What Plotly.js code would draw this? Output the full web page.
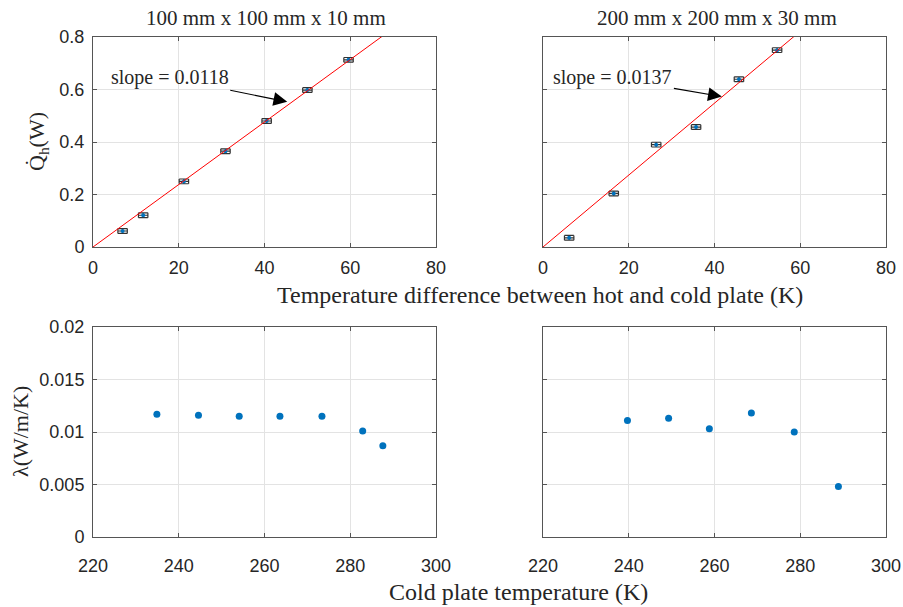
<!DOCTYPE html>
<html>
<head>
<meta charset="utf-8">
<script src="https://cdn.plot.ly/plotly-3.0.1.min.js"></script>
<style>html,body{margin:0;padding:0;background:#fff;}#chart{width:903px;height:607px;}</style>
</head>
<body>
<div id="chart"></div>
<script>
// ---- Data ----
const titles = ["100 mm x 100 mm x 10 mm", "200 mm x 200 mm x 30 mm"];

// Top row: heat flow vs temperature difference
const dT_small = [6.9, 11.7, 21.2, 30.9, 40.5, 50.0, 59.6];
const Q_small  = [0.061, 0.121, 0.250, 0.365, 0.480, 0.598, 0.713];
const dT_large = [6.1, 16.5, 26.4, 35.7, 45.7, 54.6];
const Q_large  = [0.035, 0.204, 0.390, 0.457, 0.639, 0.750];

// Fitted lines (endpoints)
const fitX_small = [0, 80];
const fitY_small = [0, 0.952];
const fitX_large = [0, 80];
const fitY_large = [0, 1.096];
const slopeLabels = ["slope = 0.0118", "slope = 0.0137"];

// Bottom row: conductivity vs cold plate temperature
const Tc_small = [234.9, 244.6, 254.1, 263.6, 273.4, 282.9, 287.6];
const lam_small = [0.0117, 0.0116, 0.0115, 0.0115, 0.0115, 0.0101, 0.0087];
const Tc_large = [239.7, 249.3, 258.8, 268.6, 278.6, 288.9];
const lam_large = [0.0111, 0.0113, 0.0103, 0.0118, 0.0100, 0.0048];

const topXTicks = [0, 20, 40, 60, 80];
const topYTicks = [0, 0.2, 0.4, 0.6, 0.8];
const botXTicks = [220, 240, 260, 280, 300];
const botYTicks = [0, 0.005, 0.01, 0.015, 0.02];
const botYTickText = ["0", "0.005", "0.01", "0.015", "0.02"];

// ---- Styling ----
const W = 903, H = 607;
const px = v => v / W;
const py = v => (H - v) / H;
const blue = "#0072BD";
const tickFont = {family: "Liberation Sans, Arial, sans-serif", size: 18, color: "#262626"};
const serif = "Liberation Serif, Times New Roman, serif";

const leftDom = [px(93), px(436)];
const rightDom = [px(543), px(886)];
const topDom = [py(247), py(37)];
const botDom = [py(537), py(327)];

function xax(dom, range, ticks, anchor, standoff) {
  return {domain: dom, range: range, tickvals: ticks, ticktext: ticks.map(String),
    showgrid: true, gridcolor: "#e3e3e3", gridwidth: 1, zeroline: false,
    showline: true, linecolor: "#555", linewidth: 1, mirror: "ticks",
    ticks: "inside", ticklen: 4, tickcolor: "#555", tickfont: tickFont,
    anchor: anchor, fixedrange: true, ticklabelstandoff: standoff};
}
function yax(dom, range, ticks, text, anchor, show) {
  return {domain: dom, range: range, tickvals: ticks, ticktext: text,
    showticklabels: show,
    showgrid: true, gridcolor: "#e3e3e3", gridwidth: 1, zeroline: false,
    showline: true, linecolor: "#555", linewidth: 1, mirror: "ticks",
    ticks: "inside", ticklen: 4, tickcolor: "#555", tickfont: tickFont,
    anchor: anchor, fixedrange: true, ticklabelstandoff: 4};
}

function boxMarkers(x, y, xa, ya) {
  return {x: x, y: y, xaxis: xa, yaxis: ya, type: "scatter", mode: "markers",
    marker: {color: blue, size: 4},
    error_x: {type: "constant", value: 1.1, width: 2.4, thickness: 1.2, color: "#333"},
    error_y: {type: "constant", value: 0.009, width: 4.7, thickness: 1.2, color: "#333"},
    showlegend: false, hoverinfo: "skip"};
}
function fitLine(x, y, xa, ya) {
  return {x: x, y: y, xaxis: xa, yaxis: ya, type: "scatter", mode: "lines",
    line: {color: "#ff0000", width: 1}, showlegend: false, hoverinfo: "skip"};
}
function dots(x, y, xa, ya) {
  return {x: x, y: y, xaxis: xa, yaxis: ya, type: "scatter", mode: "markers",
    marker: {color: blue, size: 7}, showlegend: false, hoverinfo: "skip"};
}

const data = [
  boxMarkers(dT_small, Q_small, "x", "y"),
  fitLine(fitX_small, fitY_small, "x", "y"),
  boxMarkers(dT_large, Q_large, "x2", "y2"),
  fitLine(fitX_large, fitY_large, "x2", "y2"),
  dots(Tc_small, lam_small, "x3", "y3"),
  dots(Tc_large, lam_large, "x4", "y4")
];

const titleFont = {family: serif, size: 21, color: "#262626"};
const labelFont = {family: serif, size: 24, color: "#262626"};
const yLabelFont = {family: serif, size: 22, color: "#262626"};
const annotations = [
  {text: titles[0], xref: "paper", yref: "paper", x: px(266), y: py(18), showarrow: false, font: titleFont, xanchor: "center", yanchor: "middle"},
  {text: titles[1], xref: "paper", yref: "paper", x: px(717), y: py(18), showarrow: false, font: titleFont, xanchor: "center", yanchor: "middle"},
  {text: "Temperature difference between hot and cold plate (K)", xref: "paper", yref: "paper", x: px(540), y: py(295), showarrow: false, font: labelFont, xanchor: "center", yanchor: "middle"},
  {text: "Cold plate temperature (K)", xref: "paper", yref: "paper", x: px(518), y: py(592), showarrow: false, font: labelFont, xanchor: "center", yanchor: "middle"},
  {text: "Q\u0307<sub>h</sub>(W)", xref: "paper", yref: "paper", x: px(38), y: py(142), showarrow: false, font: yLabelFont, textangle: -90, xanchor: "center", yanchor: "middle"},
  {text: "\u03bb(W/m/K)", xref: "paper", yref: "paper", x: px(20), y: py(432), showarrow: false, font: yLabelFont, textangle: -90, xanchor: "center", yanchor: "middle"},
  {text: slopeLabels[0], xref: "x", yref: "y", x: 45.3, y: 0.553, axref: "x", ayref: "y", ax: 17.9, ay: 0.644,
    showarrow: true, arrowhead: 2, arrowsize: 2.5, arrowwidth: 1.1, arrowcolor: "#000", font: {family: serif, size: 20, color: "#262626"}},
  {text: slopeLabels[1], xref: "x2", yref: "y2", x: 41.7, y: 0.573, axref: "x2", ayref: "y2", ax: 16.3, ay: 0.644,
    showarrow: true, arrowhead: 2, arrowsize: 2.5, arrowwidth: 1.1, arrowcolor: "#000", font: {family: serif, size: 20, color: "#262626"}}
];

const layout = {
  width: W, height: H,
  margin: {l: 0, r: 0, t: 0, b: 0},
  paper_bgcolor: "#fff", plot_bgcolor: "#fff",
  showlegend: false,
  xaxis: xax(leftDom, [0, 80], topXTicks, "y", 4),
  yaxis: yax(topDom, [0, 0.8], topYTicks, topYTicks.map(String), "x", true),
  xaxis2: xax(rightDom, [0, 80], topXTicks, "y2", 4),
  yaxis2: yax(topDom, [0, 0.8], topYTicks, topYTicks.map(String), "x2", false),
  xaxis3: xax(leftDom, [220, 300], botXTicks, "y3", 12),
  yaxis3: yax(botDom, [0, 0.02], botYTicks, botYTickText, "x3", true),
  xaxis4: xax(rightDom, [220, 300], botXTicks, "y4", 12),
  yaxis4: yax(botDom, [0, 0.02], botYTicks, botYTickText, "x4", false),
  annotations: annotations
};

Plotly.newPlot("chart", data, layout, {displayModeBar: false, staticPlot: true});
</script>
</body>
</html>
